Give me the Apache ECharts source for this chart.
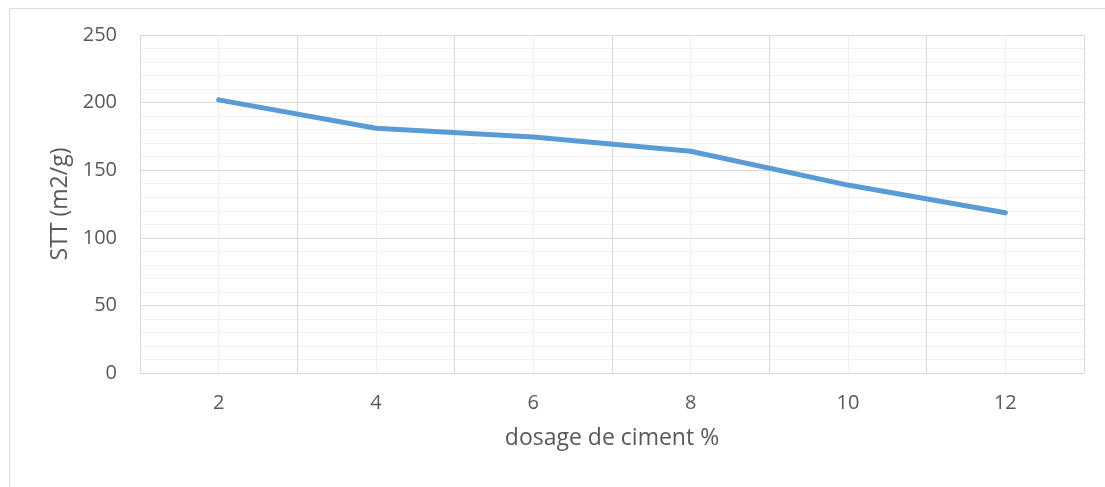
<!DOCTYPE html>
<html>
<head>
<meta charset="utf-8">
<script src="https://cdn.jsdelivr.net/npm/echarts@6/dist/echarts.min.js"></script>
<style>
html,body{margin:0;padding:0;background:#fff;}
#c{width:1105px;height:487px;}
</style>
</head>
<body>
<div id="c"></div>
<script>
var categories = ['2', '4', '6', '8', '10', '12'];
var sttValues = [202, 181, 174.5, 164, 139, 118.5];
var yTicks = [0, 50, 100, 150, 200, 250];

var chart = echarts.init(document.getElementById('c'));
var font = 'Open Sans, Liberation Sans, sans-serif';
chart.setOption({
  animation: false,
  backgroundColor: '#fff',
  graphic: [{
    type: 'rect', left: 7, top: 6, z: -1,
    shape: { x: 0, y: 0, width: 1300, height: 700 },
    style: { fill: 'none', stroke: '#d9d9d9', lineWidth: 1 }
  }],
  grid: { left: 140, right: 21, top: 35, bottom: 114 },
  xAxis: [{
    type: 'category',
    data: categories,
    boundaryGap: true,
    name: 'dosage de ciment %',
    nameLocation: 'middle',
    nameGap: 54,
    nameTextStyle: { color: '#595959', fontSize: 23, fontFamily: font },
    axisLine: { lineStyle: { color: '#d9d9d9', width: 1 } },
    axisTick: { show: false },
    axisLabel: { color: '#595959', fontSize: 20, fontFamily: font, margin: 20 },
    splitLine: { show: true, lineStyle: { color: '#d9d9d9', width: 1 } }
  }, {
    type: 'value',
    min: 0, max: 12, interval: 2,
    position: 'bottom',
    axisLine: { show: false },
    axisTick: { show: false },
    axisLabel: { show: false },
    splitLine: { show: false },
    minorTick: { show: false, splitNumber: 2 },
    minorSplitLine: { show: true, lineStyle: { color: '#f0f0f0', width: 1 } }
  }],
  yAxis: {
    type: 'value',
    min: yTicks[0], max: yTicks[yTicks.length - 1], interval: 50,
    name: 'STT (m2/g)',
    nameLocation: 'middle',
    nameGap: 68,
    nameTextStyle: { color: '#595959', fontSize: 23, fontFamily: font },
    axisLine: { show: false },
    axisTick: { show: false },
    axisLabel: { color: '#595959', fontSize: 20, fontFamily: font, margin: 23 },
    splitLine: { show: true, lineStyle: { color: '#d9d9d9', width: 1 } },
    minorTick: { show: false, splitNumber: 5 },
    minorSplitLine: { show: true, lineStyle: { color: '#f0f0f0', width: 1 } }
  },
  series: [{
    type: 'line',
    xAxisIndex: 0,
    data: sttValues,
    symbol: 'none',
    lineStyle: { color: '#5b9bd5', width: 5, cap: 'round', join: 'round' },
    z: 5
  }]
});
</script>
</body>
</html>
